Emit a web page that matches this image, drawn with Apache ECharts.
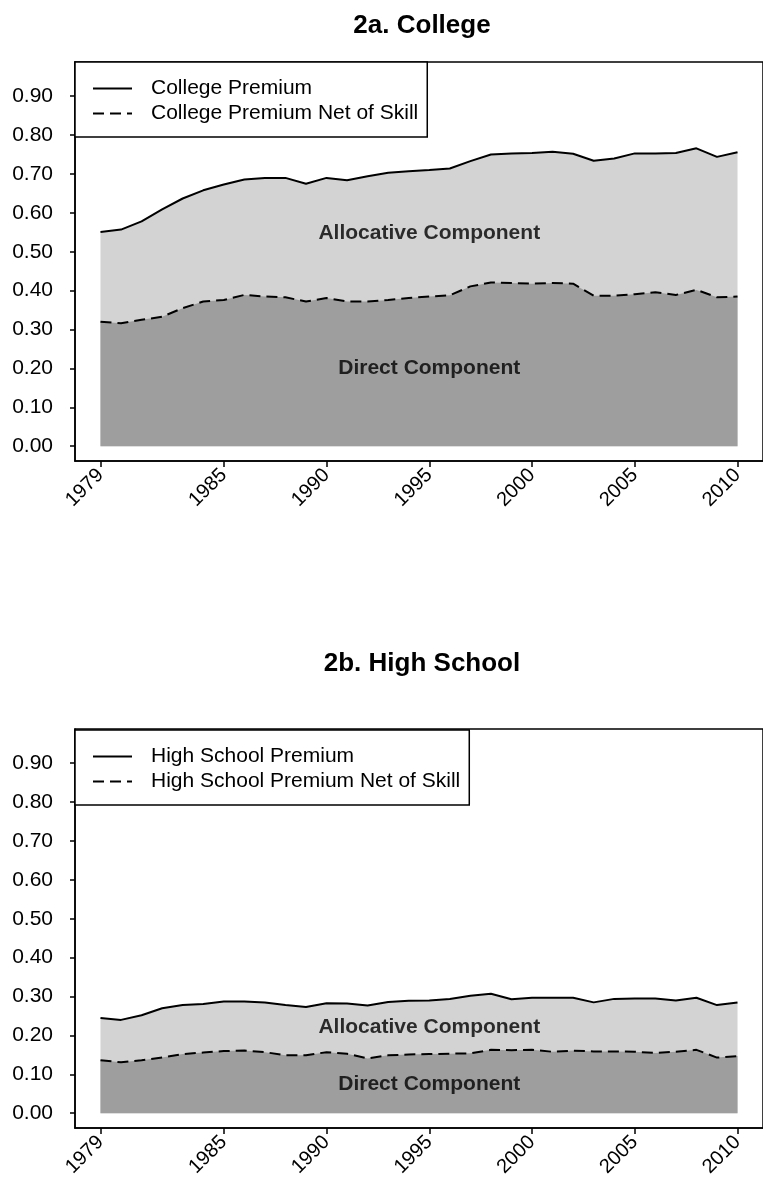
<!DOCTYPE html>
<html>
<head>
<meta charset="utf-8">
<script src="https://cdn.jsdelivr.net/npm/echarts@6/dist/echarts.min.js"></script>
<style>
html,body{margin:0;padding:0;background:#fff;}
#chart{width:763px;height:1188px;}
</style>
</head>
<body>
<div id="chart"></div>
<script>
const years = [1979,1980,1981,1982,1983,1984,1985,1986,1987,1988,1989,1990,1991,1992,1993,1994,1995,1996,1997,1998,1999,2000,2001,2002,2003,2004,2005,2006,2007,2008,2009,2010];
const collegePremium = [0.551,0.557,0.578,0.609,0.637,0.658,0.673,0.686,0.690,0.690,0.675,0.690,0.684,0.694,0.703,0.707,0.710,0.714,0.733,0.750,0.753,0.754,0.757,0.752,0.734,0.740,0.753,0.753,0.754,0.766,0.744,0.756];
const collegeNet = [0.320,0.316,0.325,0.333,0.355,0.372,0.376,0.389,0.385,0.383,0.372,0.381,0.372,0.372,0.376,0.381,0.385,0.388,0.411,0.421,0.420,0.418,0.420,0.418,0.387,0.387,0.391,0.396,0.389,0.402,0.383,0.385];
const hsPremium = [0.245,0.240,0.252,0.270,0.278,0.281,0.287,0.287,0.285,0.278,0.273,0.283,0.282,0.277,0.286,0.289,0.290,0.294,0.302,0.307,0.293,0.297,0.297,0.297,0.285,0.294,0.295,0.295,0.290,0.297,0.278,0.285];
const hsNet = [0.136,0.131,0.136,0.143,0.152,0.156,0.160,0.161,0.157,0.149,0.149,0.157,0.153,0.141,0.149,0.151,0.152,0.153,0.154,0.163,0.162,0.163,0.158,0.161,0.159,0.159,0.158,0.155,0.158,0.163,0.143,0.147];
const xTicks = [1979,1985,1990,1995,2000,2005,2010];
const yTicks = [0,0.1,0.2,0.3,0.4,0.5,0.6,0.7,0.8,0.9];
const titles = ['2a. College','2b. High School'];
const seriesNames = [
  ['College Premium','College Premium Net of Skill'],
  ['High School Premium','High School Premium Net of Skill']
];
const componentLabels = ['Allocative Component','Direct Component'];
const collegeLabelPos = [[1995,0.548],[1995,0.200]];
const hsLabelPos = [[1995,0.222],[1995,0.075]];

const FONT = "'Liberation Sans', Arial, Helvetica, sans-serif";
const LIGHT = '#d3d3d3';
const DARK = '#9e9e9e';

function pairs(vals){ return years.map((y,i)=>[y, vals[i]]); }

const grids = [
  {left:75, top:62, width:694, height:399},
  {left:75, top:729, width:694, height:399}
];

function xAx(i){
  return {
    type:'value', gridIndex:i, min:1977.76, max:2011.24,
    splitLine:{show:false},
    axisLine:{show:true, onZero:false, lineStyle:{color:'#000', width:1.5}},
    axisTick:{show:true, length:6, customValues:xTicks, lineStyle:{color:'#000', width:1.5}},
    axisLabel:{show:true, customValues:xTicks, rotate:45, margin:11, color:'#000', fontSize:20, fontFamily:FONT,
      formatter:(v)=>String(v)}
  };
}
function yAx(i){
  return {
    type:'value', gridIndex:i, min:-0.038, max:0.988,
    splitLine:{show:false},
    axisLine:{show:true, onZero:false, lineStyle:{color:'#000', width:1.5}},
    axisTick:{show:true, length:5, customValues:yTicks, lineStyle:{color:'#000', width:1.5}},
    axisLabel:{show:true, customValues:yTicks, margin:22, color:'#000', fontSize:21, fontFamily:FONT,
      formatter:(v)=>v.toFixed(2)}
  };
}

function areaSeries(i, name, vals, fill, dashed){
  return {
    type:'line', name:name, xAxisIndex:i, yAxisIndex:i,
    data:pairs(vals), symbol:'none', smooth:false,
    lineStyle:{color:'#000', width:2, type: dashed ? [11,6] : 'solid'},
    itemStyle:{color:'#000'},
    areaStyle:{color:fill, opacity:1},
    z: dashed ? 3 : 2
  };
}
function labelSeries(i, pos){
  return {
    type:'scatter', xAxisIndex:i, yAxisIndex:i, symbolSize:0, silent:true, z:5,
    data: pos.map((p,k)=>({value:p, name:componentLabels[k]})),
    label:{show:true, position:'inside', formatter:(p)=>p.name, color:'#000',
      textBorderWidth:0, fontSize:21, fontWeight:'bold', fontFamily:FONT}
  };
}
function legendFor(i, top){
  return {
    orient:'vertical', left:75, top:top,
    data:[
      {name:seriesNames[i][0], lineStyle:{type:'solid', width:2, color:'#000'}},
      {name:seriesNames[i][1], lineStyle:{type:[11,6], width:2, color:'#000'}}
    ],
    itemWidth:39, itemHeight:14, itemGap:4,
    itemStyle:{opacity:0},
    padding:[16,9,13,17],
    borderColor:'#000', borderWidth:1.5, backgroundColor:'#fff',
    textStyle:{color:'#000', fontSize:21, fontFamily:FONT, padding:[0,0,0,14]},
    selectedMode:false
  };
}

const option = {
  animation:false,
  backgroundColor:'#fff',
  grid: grids.map(g=>Object.assign({show:true, borderColor:'#000', borderWidth:1.5, backgroundColor:'transparent'}, g)),
  xAxis:[xAx(0), xAx(1)],
  yAxis:[yAx(0), yAx(1)],
  legend:[legendFor(0, 62), legendFor(1, 730)],
  graphic:[
    {type:'text', x:422, y:26, style:{text:titles[0], fill:'#000', font:'bold 26px '+FONT, textAlign:'center', textVerticalAlign:'middle'}},
    {type:'text', x:422, y:664, style:{text:titles[1], fill:'#000', font:'bold 26px '+FONT, textAlign:'center', textVerticalAlign:'middle'}}
  ],
  series:[
    areaSeries(0, seriesNames[0][0], collegePremium, LIGHT, false),
    areaSeries(0, seriesNames[0][1], collegeNet, DARK, true),
    labelSeries(0, collegeLabelPos),
    areaSeries(1, seriesNames[1][0], hsPremium, LIGHT, false),
    areaSeries(1, seriesNames[1][1], hsNet, DARK, true),
    labelSeries(1, hsLabelPos)
  ]
};
const chart = echarts.init(document.getElementById('chart'), null, {renderer:'canvas'});
chart.setOption(option);
</script>
</body>
</html>
